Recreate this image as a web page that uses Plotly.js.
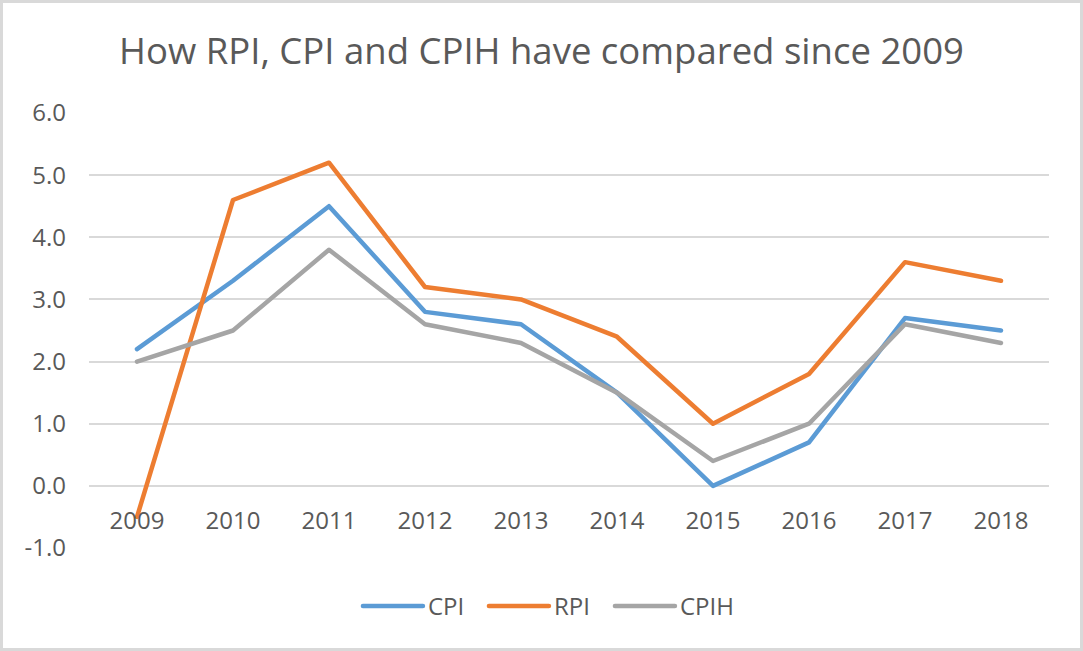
<!DOCTYPE html>
<html>
<head>
<meta charset="utf-8">
<script src="https://cdn.plot.ly/plotly-3.0.1.min.js"></script>
<style>
  html, body { margin: 0; padding: 0; background: #fff; }
  #wrap { position: relative; width: 1083px; height: 651px; }
  #chart { width: 1083px; height: 651px; }
  #frame { position: absolute; left: 0; top: 0; width: 1083px; height: 651px; box-sizing: border-box; border: 3px solid #d9d9d9; pointer-events: none; }
  #chart path.js-line { stroke-linecap: round; stroke-linejoin: round; }
</style>
</head>
<body>
<div id="wrap"><div id="chart"></div><div id="frame"></div></div>
<script>
const years = ['2009','2010','2011','2012','2013','2014','2015','2016','2017','2018'];
const cpi  = [2.2, 3.3, 4.5, 2.8, 2.6, 1.5, 0.0, 0.7, 2.7, 2.5];
const rpi  = [-0.5, 4.6, 5.2, 3.2, 3.0, 2.4, 1.0, 1.8, 3.6, 3.3];
const cpih = [2.0, 2.5, 3.8, 2.6, 2.3, 1.5, 0.4, 1.0, 2.6, 2.3];
const yTicks = [-1, 0, 1, 2, 3, 4, 5, 6];
const yTickText = yTicks.map(v => v.toFixed(1));
const yRange = [-1, 6];

const font = 'Open Sans, sans-serif';
const txt = '#595959';

function line(name, ys, color) {
  return { type: 'scatter', mode: 'lines', name: name, x: years, y: ys,
           line: { color: color, width: 4.5 }, hoverinfo: 'skip' };
}

const data = [
  line('CPI', cpi, '#5B9BD5'),
  line('RPI', rpi, '#ED7D31'),
  line('CPIH', cpih, '#A5A5A5')
];

const layout = {
  width: 1083, height: 651,
  margin: { l: 88.5, r: 34, t: 112.7, b: 103.3, pad: 0 },
  paper_bgcolor: '#fff', plot_bgcolor: '#fff',
  showlegend: true,
  title: { text: 'How RPI, CPI and CPIH have compared since 2009',
           font: { family: font, size: 36.5, color: txt },
           x: 0.5, xanchor: 'center', xref: 'container', y: 0.922, yref: 'container', yanchor: 'middle' },
  xaxis: {
    type: 'category', range: [-0.5, 9.5], fixedrange: true,
    anchor: 'free', position: (0 - yRange[0]) / (yRange[1] - yRange[0]),
    showline: false, showgrid: false, zeroline: false, ticks: '',
    ticklabelstandoff: 18,
    tickfont: { family: font, size: 24, color: txt }
  },
  yaxis: {
    range: yRange, tickmode: 'array', tickvals: yTicks, ticktext: yTickText, fixedrange: true,
    showline: false, zeroline: false, showgrid: true, gridcolor: '#d9d9d9', gridwidth: 2,
    ticks: '', ticklabelstandoff: 22,
    tickfont: { family: font, size: 24, color: txt }
  },
  legend: {
    orientation: 'h', x: 0.477, xanchor: 'center', y: -0.134, yanchor: 'middle',
    font: { family: font, size: 24, color: txt },
    itemwidth: 60, traceorder: 'normal', entrywidth: 51, entrywidthmode: 'pixels'
  }
};

Plotly.newPlot('chart', data, layout, { staticPlot: true, displayModeBar: false });
</script>
</body>
</html>
